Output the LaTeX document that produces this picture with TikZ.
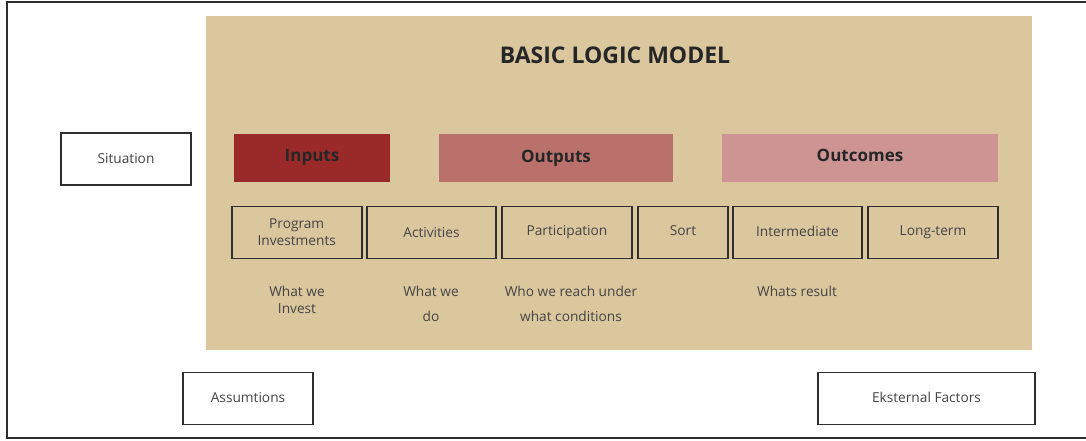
\documentclass[tikz,border=0pt]{standalone}
\usepackage{fontspec}
\setmainfont{Open Sans}
\definecolor{beige}{HTML}{DBC79E}
\definecolor{inred}{HTML}{9A2A2A}
\definecolor{outred}{HTML}{BA716C}
\definecolor{outcpink}{HTML}{CE9494}
\definecolor{linegrey}{HTML}{2E2E2E}
\definecolor{txtdark}{HTML}{262626}
\definecolor{txtgrey}{HTML}{444444}
\begin{document}
\begin{tikzpicture}[x=1pt,y=-1pt,
  every node/.style={inner sep=0pt,outer sep=0pt},
  smalltext/.style={font=\fontsize{13.7}{17}\selectfont,text=txtgrey,align=center},
  headbox/.style={font=\fontsize{17}{20}\selectfont\bfseries,text=txtdark,minimum height=48pt},
  itembox/.style={draw=linegrey,line width=1.6pt,minimum height=52pt,smalltext},
  sidebox/.style={draw=linegrey,line width=1.6pt,fill=white,minimum height=52pt,smalltext}]
\useasboundingbox (0,0) rectangle (1086,440);
\fill[white] (0,0) rectangle (1086,440);
% outer frame
\draw[linegrey,line width=2pt] (1086,2) -- (6.5,2) -- (6.5,437.5) -- (1086,437.5);
% beige panel
\node[fill=beige,minimum width=826pt,minimum height=334pt] (panel) at (619,183) {};
\node[font=\fontsize{23}{26}\selectfont\bfseries,text=txtdark] (title) at (615,55) {BASIC LOGIC MODEL};
% headers
\node[headbox,fill=inred,minimum width=156pt] (inputs) at (312,158) {\raisebox{4.5pt}{Inputs}};
\node[headbox,fill=outred,minimum width=234pt] (outputs) at (556,158) {\raisebox{2pt}{Outputs}};
\node[headbox,fill=outcpink,minimum width=276pt] (outcomes) at (860,158) {\raisebox{4.5pt}{Outcomes}};
% item boxes
\node[itembox,minimum width=130pt] (prog) at (296.7,232.5) {Program\\Investments};
\node[itembox,minimum width=129pt] (act) at (431.5,232.5) {\raisebox{1pt}{Activities}};
\node[itembox,minimum width=130pt] (part) at (567,232.5) {\raisebox{3pt}{Participation}};
\node[itembox,minimum width=89.5pt] (sort) at (683,232.5) {\raisebox{3pt}{Sort}};
\node[itembox,minimum width=129.5pt] (inter) at (797.5,232.5) {\raisebox{3pt}{Intermediate}};
\node[itembox,minimum width=129.5pt] (long) at (933,232.5) {\raisebox{3pt}{Long-term}};
% descriptions
\node[smalltext] (d1) at (297,299.5) {What we\\Invest};
\node[smalltext] (d2) at (431,303.5) {What we\\[8pt]do};
\node[smalltext] (d3) at (571,303.5) {Who we reach under\\[8pt]what conditions};
\node[smalltext] (d4) at (797,291) {Whats result};
% side boxes
\node[sidebox,minimum width=130pt] (sit) at (126,159) {\raisebox{2pt}{Situation}};
\node[sidebox,minimum width=130pt] (ass) at (248,398.5) {\raisebox{2pt}{Assumtions}};
\node[sidebox,minimum width=217pt] (ext) at (926.5,398.5) {\raisebox{2pt}{Eksternal Factors}};
\end{tikzpicture}
\end{document}
